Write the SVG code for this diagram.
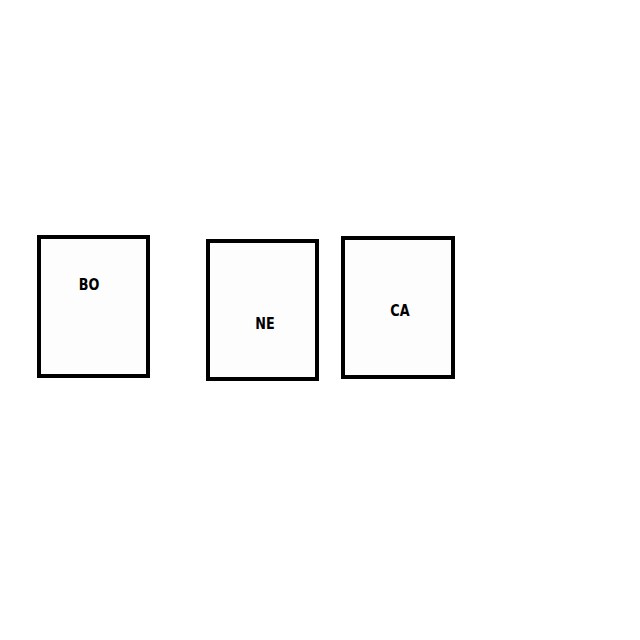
<svg xmlns="http://www.w3.org/2000/svg" width="640" height="640" viewBox="0 0 640 640">
<style>
.box{fill:#fdfdfd;stroke:#000;stroke-width:4}
.lbl{font-family:"DejaVu Sans","Liberation Sans",sans-serif;font-weight:bold;font-size:16px;fill:#000;text-anchor:middle;dominant-baseline:central}
</style>
<rect width="640" height="640" fill="#fff"/>
<g id="connectors"></g>
<g id="BO"><rect class="box" x="39" y="237" width="109" height="139"/><text class="lbl" transform="translate(89 284) scale(0.8 1)">BO</text></g>
<g id="NE"><rect class="box" x="208" y="241" width="109" height="138"/><text class="lbl" transform="translate(265 323) scale(0.8 1)">NE</text></g>
<g id="CA"><rect class="box" x="343" y="238" width="110" height="139"/><text class="lbl" transform="translate(400 310) scale(0.8 1)">CA</text></g>
</svg>
